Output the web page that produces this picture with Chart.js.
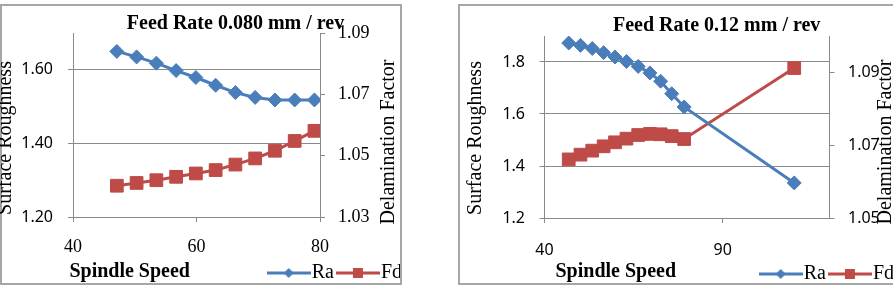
<!DOCTYPE html>
<html>
<head>
<meta charset="utf-8">
<script src="https://cdn.jsdelivr.net/npm/chart.js@4.4.1/dist/chart.umd.min.js"></script>
<style>
  html, body { margin: 0; padding: 0; background: #fff; overflow: hidden; }
  body { width: 893px; height: 296px; position: relative; }
  .wrap { position: absolute; top: 0; overflow: hidden; }
  .box { position: absolute; border: 2px solid #a6a6a6; box-sizing: border-box; pointer-events: none; }
  .lbl { position: absolute; font-family: "Liberation Serif", serif; font-size: 20px; line-height: 20px;
         white-space: nowrap; color: #000; transform: translate(-50%, -50%); }
  .b { font-weight: bold; }
  .rot { transform: translate(-50%, -50%) rotate(-90deg); }
</style>
</head>
<body>
<div class="wrap" style="left:0;width:402px;height:296px"><canvas id="c1" width="413" height="296"></canvas></div>
<div class="wrap" style="left:458px;width:435px;height:296px"><canvas id="c2" width="447" height="296"></canvas></div>
<div class="box" style="left:0;top:4px;width:402px;height:281px"></div>
<div class="box" style="left:458px;top:4px;width:450px;height:281px"></div>

<div class="lbl b" style="left:235.5px;top:21.5px">Feed Rate 0.080 mm / rev</div>
<div class="lbl b" style="left:129.7px;top:269.5px">Spindle Speed</div>
<div class="lbl rot" style="left:4.3px;top:138px">Surface Roughness</div>
<div class="lbl rot" style="left:386.5px;top:142px">Delamination Factor</div>

<div class="lbl b" style="left:716.7px;top:24px">Feed Rate 0.12 mm / rev</div>
<div class="lbl b" style="left:615.8px;top:269.5px">Spindle Speed</div>
<div class="lbl rot" style="left:474px;top:137.5px">Surface Roughness</div>
<div class="lbl rot" style="left:884px;top:142px">Delamination Factor</div>

<script>
// 數據 (Feed Rate 0.080 mm / rev)
const speed1 = [47.1, 50.3, 53.5, 56.7, 59.9, 63.1, 66.3, 69.5, 72.7, 75.9, 79.1];
const ra1 = [1.650, 1.635, 1.618, 1.598, 1.579, 1.558, 1.538, 1.525, 1.518, 1.518, 1.518];
const fd1 = [1.0402, 1.0411, 1.0420, 1.0431, 1.0442, 1.0453, 1.0471, 1.0491, 1.0516, 1.0548, 1.0581];
const xTicks1 = [40, 60, 80];
const raTicks1 = [1.20, 1.40, 1.60];
const fdTicks1 = [1.03, 1.05, 1.07, 1.09];

// 數據 (Feed Rate 0.12 mm / rev)
const speed2 = [46.8, 50.1, 53.4, 56.6, 59.8, 63.0, 66.3, 69.6, 72.6, 75.7, 79.2, 110.1];
const ra2 = [1.873, 1.864, 1.852, 1.836, 1.819, 1.802, 1.783, 1.758, 1.726, 1.678, 1.627, 1.335];
const fd2 = [1.0661, 1.0674, 1.0685, 1.0697, 1.0708, 1.0718, 1.0728, 1.0731, 1.0730, 1.0725, 1.0717, 1.0912];
const xTicks2 = [40, 90];
const raTicks2 = [1.2, 1.4, 1.6, 1.8];
const fdTicks2 = [1.05, 1.07, 1.09];

const BLUE = '#4a7ebb';
const RED = '#be4b48';
const GRID = '#8a8a8a';
const serif = { family: 'Liberation Serif', size: 18 };
const sans = { family: 'Noto Sans', size: 16 };

// 圖例小圖示: 線 + 標記
function legendIcon(color, shape) {
    const c = document.createElement('canvas');
    c.width = 44; c.height = 14;
    const g = c.getContext('2d');
    g.strokeStyle = color; g.lineWidth = 3;
    g.beginPath(); g.moveTo(0, 7); g.lineTo(44, 7); g.stroke();
    g.fillStyle = color;
    g.beginPath();
    if (shape === 'diamond') {
        g.moveTo(22, 2); g.lineTo(27, 7); g.lineTo(22, 12); g.lineTo(17, 7); g.closePath();
    } else {
        g.rect(17, 2, 10, 10);
    }
    g.fill();
    return c;
}
const icons = [legendIcon(BLUE, 'diamond'), legendIcon(RED, 'square')];

// x 軸刻度文字不要被軸框裁掉
const noLabelClip = {
    id: 'noLabelClip',
    afterLayout(chart) { chart.scales.x.bottom = chart.height; }
};

function makeChart(id, o) {
    const pts = ys => o.xs.map((x, i) => ({ x: x, y: ys[i] }));
    const fixTicks = list => axis => { axis.ticks = list.map(v => ({ value: v })); };
    return new Chart(document.getElementById(id), {
        type: 'line',
        data: {
            datasets: [{
                label: 'Ra',
                data: pts(o.ra),
                yAxisID: 'y',
                borderColor: BLUE,
                backgroundColor: BLUE,
                borderWidth: 3,
                pointStyle: 'rectRot',
                pointRadius: 7,
                pointBorderWidth: 1,
                tension: 0
            }, {
                label: 'Fd',
                data: pts(o.fd),
                yAxisID: 'y2',
                borderColor: RED,
                backgroundColor: RED,
                borderWidth: 3,
                pointStyle: 'rect',
                pointRadius: 9,
                pointBorderWidth: 1,
                tension: 0
            }]
        },
        plugins: [noLabelClip],
        options: {
            responsive: false,
            animation: false,
            events: [],
            layout: { padding: { left: 0, right: 0, top: o.top, bottom: o.bottom } },
            plugins: {
                title: { display: false },
                tooltip: { enabled: false },
                legend: {
                    position: 'bottom',
                    align: 'end',
                    labels: {
                        usePointStyle: true,
                        pointStyleWidth: 26,
                        padding: 11,
                        color: '#000',
                        font: { family: 'Liberation Serif', size: 20 },
                        generateLabels: chart => Chart.defaults.plugins.legend.labels.generateLabels(chart)
                            .map((it, i) => Object.assign(it, { pointStyle: icons[i] }))
                    }
                }
            },
            scales: {
                x: {
                    type: 'linear',
                    min: o.xMin, max: o.xMax,
                    afterBuildTicks: fixTicks(o.xTicks),
                    afterFit: s => { s.height = o.xH; },
                    grid: { drawOnChartArea: false, color: GRID, tickLength: 5 },
                    border: { color: GRID },
                    ticks: { font: o.xFont, color: '#000', padding: o.xPad, maxRotation: 0, autoSkip: false }
                },
                y: {
                    position: 'left',
                    min: o.raMin, max: o.raMax,
                    afterBuildTicks: fixTicks(o.raTicks),
                    afterFit: s => { s.width = o.yW; },
                    grid: { color: GRID, tickLength: 5 },
                    border: { color: GRID },
                    ticks: { font: sans, color: '#000', padding: o.yPad, autoSkip: false,
                             callback: v => v.toFixed(o.raDec) }
                },
                y2: {
                    position: 'right',
                    min: o.fdMin, max: o.fdMax,
                    afterBuildTicks: fixTicks(o.fdTicks),
                    afterFit: s => { s.width = o.y2W; },
                    grid: { drawOnChartArea: false, color: GRID, tickLength: 5 },
                    border: { color: GRID },
                    ticks: { font: o.fdFont, color: '#000', padding: o.y2Pad, autoSkip: false,
                             callback: v => v.toFixed(2) }
                }
            }
        }
    });
}

makeChart('c1', {
    xs: speed1, ra: ra1, fd: fd1,
    xMin: 40, xMax: 80, xTicks: xTicks1,
    raMin: 1.2, raMax: 1.7, raTicks: raTicks1, raDec: 2,
    fdMin: 1.03, fdMax: 1.09, fdTicks: fdTicks1,
    xFont: serif, fdFont: serif,
    top: 33, bottom: 3, xH: 35, yW: 73, y2W: 93,
    xPad: 14, yPad: 15, y2Pad: 13
});

makeChart('c2', {
    xs: speed2, ra: ra2, fd: fd2,
    xMin: 40, xMax: 120, xTicks: xTicks2,
    raMin: 1.2, raMax: 1.9, raTicks: raTicks2, raDec: 1,
    fdMin: 1.05, fdMax: 1.10, fdTicks: fdTicks2,
    xFont: sans, fdFont: sans,
    top: 36, bottom: 2, xH: 35, yW: 86.5, y2W: 75.5,
    xPad: 17.4, yPad: 14.5, y2Pad: 13.5
});
</script>
</body>
</html>
